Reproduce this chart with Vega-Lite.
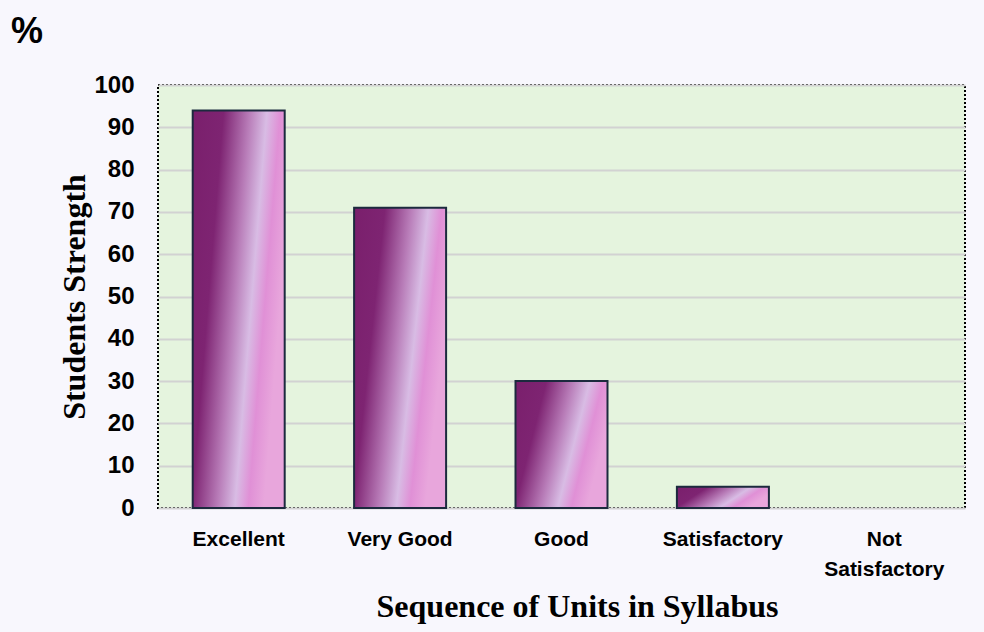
{
  "$schema": "https://vega.github.io/schema/vega-lite/v6.json",
  "width": 807,
  "height": 423,
  "autosize": "none",
  "padding": {"left": 158, "top": 85, "right": 19, "bottom": 124},
  "background": "#f8f7fd",
  "title": {
    "text": "%",
    "anchor": "start",
    "frame": "group",
    "dx": -147,
    "offset": 22,
    "font": "Liberation Sans",
    "fontSize": 36,
    "fontWeight": "bold",
    "color": "#000000"
  },
  "config": {
    "view": {"fill": "#e5f4de", "stroke": "#000000", "strokeWidth": 2, "strokeDash": [2, 2]}
  },
  "data": {
    "values": [
      {"category": "Excellent", "value": 94},
      {"category": "Very Good", "value": 71},
      {"category": "Good", "value": 30},
      {"category": "Satisfactory", "value": 5},
      {"category": "Not Satisfactory", "value": 0}
    ]
  },
  "mark": {
    "type": "bar",
    "stroke": "#1c2a3e",
    "strokeWidth": 2,
    "fill": {
      "gradient": "linear",
      "x1": 0, "y1": 0, "x2": 1, "y2": 0.35,
      "stops": [
        {"offset": 0, "color": "#7a1f6c"},
        {"offset": 0.3, "color": "#7e2472"},
        {"offset": 0.55, "color": "#b87cb8"},
        {"offset": 0.72, "color": "#d8bce4"},
        {"offset": 0.85, "color": "#e090d6"},
        {"offset": 1, "color": "#e8a6dc"}
      ]
    }
  },
  "encoding": {
    "x": {
      "field": "category",
      "type": "nominal",
      "sort": null,
      "scale": {"paddingInner": 0.43, "paddingOuter": 0.215},
      "axis": {
        "title": "Sequence of Units in Syllabus",
        "titleFont": "Liberation Serif",
        "titleFontSize": 32,
        "titleFontWeight": "bold",
        "titleColor": "#000000",
        "titlePadding": 12,
        "titleX": 419,
        "labelFont": "Liberation Sans",
        "labelFontSize": 21,
        "labelFontWeight": "bold",
        "labelColor": "#000000",
        "labelAngle": 0,
        "labelPadding": 20,
        "labelLineHeight": 30,
        "labelExpr": "datum.value == 'Not Satisfactory' ? ['Not', 'Satisfactory'] : datum.value",
        "ticks": false,
        "domain": false,
        "grid": false
      }
    },
    "y": {
      "field": "value",
      "type": "quantitative",
      "scale": {"domain": [0, 100]},
      "axis": {
        "title": "Students Strength",
        "titleFont": "Liberation Serif",
        "titleFontSize": 32,
        "titleFontWeight": "bold",
        "titleColor": "#000000",
        "titleX": -84,
        "titleBaseline": "middle",
        "labelFont": "Liberation Sans",
        "labelFontSize": 24,
        "labelFontWeight": "bold",
        "labelColor": "#000000",
        "labelPadding": 24,
        "labelOverlap": false,
        "values": [0, 10, 20, 30, 40, 50, 60, 70, 80, 90, 100],
        "ticks": false,
        "domain": false,
        "grid": true,
        "gridColor": "#d2d2d2",
        "gridWidth": 2
      }
    },
    "strokeOpacity": {
      "condition": {"test": "datum.value == 0", "value": 0},
      "value": 1
    }
  }
}
